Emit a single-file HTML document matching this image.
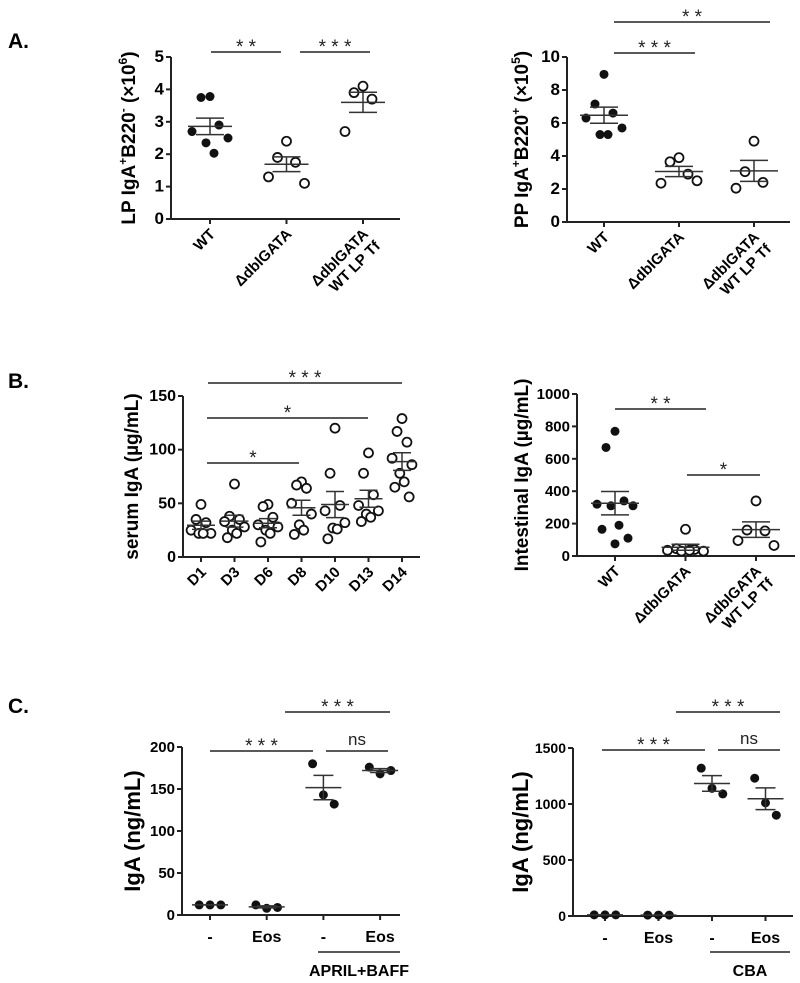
<!DOCTYPE html>
<html><head><meta charset="utf-8"><style>
body{margin:0;background:#fff;}
svg{display:block;font-family:"Liberation Sans",sans-serif;}
</style></head><body>
<svg id="fig" width="800" height="983" viewBox="0 0 800 983" xmlns="http://www.w3.org/2000/svg">
<text x="8" y="48" font-size="21" font-weight="bold">A.</text>
<text x="8" y="388" font-size="21" font-weight="bold">B.</text>
<text x="8" y="713" font-size="21" font-weight="bold">C.</text>
</svg>
<script>
// ---- Data ----
const a1Categories = ["WT", "ΔdblGATA", "ΔdblGATA|WT LP  Tf"];
const a1Values = [[3.78,3.75,2.9,2.7,2.5,2.35,2.03],[2.4,1.9,1.75,1.3,1.1],[4.1,3.9,3.7,2.7]];
const a1Ticks = [0,1,2,3,4,5];
const a2Categories = ["WT", "ΔdblGATA", "ΔdblGATA|WT LP  Tf"];
const a2Values = [[8.95,7.15,6.6,6.3,5.7,5.3,5.3],[3.9,3.65,2.9,2.35,2.5],[4.9,3.05,2.4,2.05]];
const a2Ticks = [0,2,4,6,8,10];
const b1Categories = ["D1","D3","D6","D8","D10","D13","D14"];
const b1Values = [[49,35,32,25,22,22,22],[68,38,35,33,28,25,22,18],[49,47,37,30,28,25,22,14],[70,67,64,50,40,30,25,21],[120,78,48,43,32,27,26,17],[97,78,58,48,43,40,37,33],[129,117,107,92,86,78,70,65,56]];
const b1Ticks = [0,50,100,150];
const b2Categories = ["WT", "ΔdblGATA", "ΔdblGATA|WT LP  Tf"];
const b2Values = [[770,670,340,320,310,310,190,165,110,75],[165,45,40,35,30,30,35],[340,160,155,95,65]];
const b2Ticks = [0,200,400,600,800,1000];
const c1Categories = ["-","Eos","-","Eos"];
const c1Values = [[12,12,12],[12,8,9],[180,143,132],[176,168,172]];
const c1Ticks = [0,50,100,150,200];
const c2Categories = ["-","Eos","-","Eos"];
const c2Values = [[10,10,10],[8,8,8],[1320,1140,1090],[1230,1010,900]];
const c2Ticks = [0,500,1000,1500];

const NS = "http://www.w3.org/2000/svg";
const svg = document.getElementById('fig');
function mk(tag, attrs, parent){const e=document.createElementNS(NS,tag);for(const k in attrs)e.setAttribute(k,attrs[k]);(parent||svg).appendChild(e);return e;}
const jit=[0,-9,9,-18,18,-4,4,-13,13,0];

function panel(p){
  const g=mk('g',{});
  
  
  const y=v=>p.y0+(v/p.max)*(p.yTop-p.y0);
  const x=i=>p.x1+i*p.step;
  const ya=mk('line',{x1:p.ax,y1:p.yTop,x2:p.ax,y2:p.y0,stroke:'#222','stroke-width':2},g);
  
  
  const xa=mk('line',{x1:p.ax,y1:p.y0,x2:p.axEnd,y2:p.y0,stroke:'#222','stroke-width':2},g);
  
  
  p.ticks.forEach(t=>{
    mk('line',{x1:p.ax-5,y1:y(t),x2:p.ax,y2:y(t),stroke:'#222','stroke-width':2},g);
    const tl=mk('text',{x:p.ax-7,y:y(t)+5,'text-anchor':'end','font-size':p.tfs,'font-weight':'bold'},g);
    tl.textContent=t;
    
    
  });
  const tt=mk('text',{transform:`translate(${p.titleX},${(p.yTop+p.y0)/2}) rotate(-90)`,'text-anchor':'middle','font-size':p.titleFs,'font-weight':'bold'},g);
  tt.innerHTML=p.title;
  
  
  p.cats.forEach((c,i)=>{
    const cx=x(i);
    mk('line',{x1:cx,y1:p.y0,x2:cx,y2:p.y0+5,stroke:'#222','stroke-width':2},g);
    let lab;
    if(p.rot){
      const parts=c.split('|');
      lab=mk('text',{transform:`translate(${cx+6},${p.y0+16}) rotate(-45)`,'text-anchor':'end','font-size':p.xfs,'font-weight':'bold'},g);
      parts.forEach((s,k)=>{const ts=mk('tspan',{x:0,dy:k?17:0},lab);ts.textContent=s;});
    } else {
      lab=mk('text',{x:cx,y:p.y0+27,'text-anchor':'middle','font-size':p.xfs,'font-weight':'bold'},g);
      lab.textContent=c;
    }
    
    
    const vals=p.vals[i];
    const filled=p.filled(i);
    vals.forEach((v,k)=>{
      const dx=p.jit? jit[k%jit.length]*p.jit : (k-(vals.length-1)/2)*p.dot*2.4;
      const pt=mk('circle',{cx:cx+dx,cy:y(v),r:p.dot,fill:filled?'#111':'#fff',stroke:'#111','stroke-width':filled?0:1.8},g);
      
      
    });
    const n=vals.length, m=vals.reduce((a,b)=>a+b,0)/n;
    const sd=Math.sqrt(vals.reduce((a,b)=>a+(b-m)*(b-m),0)/(n-1)), se=sd/Math.sqrt(n);
    const ml=mk('line',{x1:cx-p.mw,y1:y(m),x2:cx+p.mw,y2:y(m),stroke:'#333','stroke-width':1.5},g);
    
    
    const eb=mk('path',{d:`M${cx},${y(m-se)}V${y(m+se)}M${cx-p.ew},${y(m-se)}H${cx+p.ew}M${cx-p.ew},${y(m+se)}H${cx+p.ew}`,stroke:'#333','stroke-width':1.5,fill:'none'},g);
    
    
  });
  (p.sig||[]).forEach(s=>{
    const l=mk('line',{x1:s[0],y1:s[2],x2:s[1],y2:s[2],stroke:'#222','stroke-width':1.5},g);
    
    
    const t=mk('text',{x:(s[0]+s[1])/2,y:s[2]-(s[3]=='ns'?6:-1),'text-anchor':'middle','font-size':s[3]=='ns'?17:19,fill:'#222'},g);
    t.textContent=s[3];
    
    
  });
  (p.group||[]).forEach(gp=>{
    const l=mk('line',{x1:gp[0],y1:952,x2:gp[1],y2:952,stroke:'#222','stroke-width':1.5},g);
    
    
    const t=mk('text',{x:(gp[0]+gp[1])/2,y:976,'text-anchor':'middle','font-size':16,'font-weight':'bold'},g);
    t.textContent=gp[2];
    
    
  });
}

const sup=(a)=>`<tspan font-size="12" dy="-8">${a}</tspan><tspan dy="8">`;
panel({name:'panel-a-lp-iga',cats:a1Categories,vals:a1Values,ticks:a1Ticks,max:5,ax:171,axEnd:400,y0:219,yTop:57,x1:210,step:76.5,rot:true,
  title:`LP IgA${sup('+')}B220${sup('-')} (×10${sup('6')})</tspan></tspan></tspan>`,titleX:135,titleFs:19,tfs:17,xfs:15,dot:4.5,jit:1,mw:22,ew:14,
  filled:i=>i==0,sig:[[211,281,52,'* *'],[300,370,52,'* * *']]});
panel({name:'panel-a-pp-iga',cats:a2Categories,vals:a2Values,ticks:a2Ticks,max:10,ax:567,axEnd:790,y0:222,yTop:57,x1:604,step:75,rot:true,
  title:`PP IgA${sup('+')}B220${sup('+')} (×10${sup('5')})</tspan></tspan></tspan>`,titleX:528,titleFs:19,tfs:17,xfs:15,dot:4.5,jit:1,mw:24,ew:14,
  filled:i=>i==0,sig:[[614,695,53,'* * *'],[614,770,22,'* *']]});
panel({name:'panel-b-serum-iga',cats:b1Categories,vals:b1Values,ticks:b1Ticks,max:150,ax:183,axEnd:420,y0:557,yTop:396,x1:201,step:33.5,rot:true,
  title:'serum IgA (µg/mL)',titleX:138,titleFs:19,tfs:16,xfs:15,dot:4.5,jit:0.55,mw:14,ew:9,
  filled:i=>false,sig:[[207,299,463,'*'],[207,368,418,'*'],[208,402,383,'* * *']]});
panel({name:'panel-b-intestinal-iga',cats:b2Categories,vals:b2Values,ticks:b2Ticks,max:1000,ax:577,axEnd:795,y0:556,yTop:394,x1:615,step:70.5,rot:true,
  title:'Intestinal IgA (µg/mL)',titleX:528,titleFs:19,tfs:15,xfs:15,dot:4.5,jit:1,mw:24,ew:14,
  filled:i=>i==0,sig:[[615,706,409,'* *'],[687,760,475,'*']]});
panel({name:'panel-c-april-baff',cats:c1Categories,vals:c1Values,ticks:c1Ticks,max:200,ax:182,axEnd:400,y0:915,yTop:747,x1:210,step:56.7,rot:false,
  title:'IgA (ng/mL)',titleX:140,titleFs:22,tfs:15,xfs:16,dot:4.5,jit:0,mw:18,ew:10,
  filled:i=>true,sig:[[210,313,751,'* * *'],[326,388,751,'ns'],[285,390,712,'* * *']],group:[[318,400,'APRIL+BAFF']]});
panel({name:'panel-c-cba',cats:c2Categories,vals:c2Values,ticks:c2Ticks,max:1500,ax:573,axEnd:793,y0:916,yTop:748,x1:605,step:53.5,rot:false,
  title:'IgA (ng/mL)',titleX:528,titleFs:22,tfs:14,xfs:16,dot:4.5,jit:0,mw:18,ew:10,
  filled:i=>true,sig:[[602,705,750,'* * *'],[718,780,750,'ns'],[676,780,712,'* * *']],group:[[710,790,'CBA']]});
</script>
</body></html>
